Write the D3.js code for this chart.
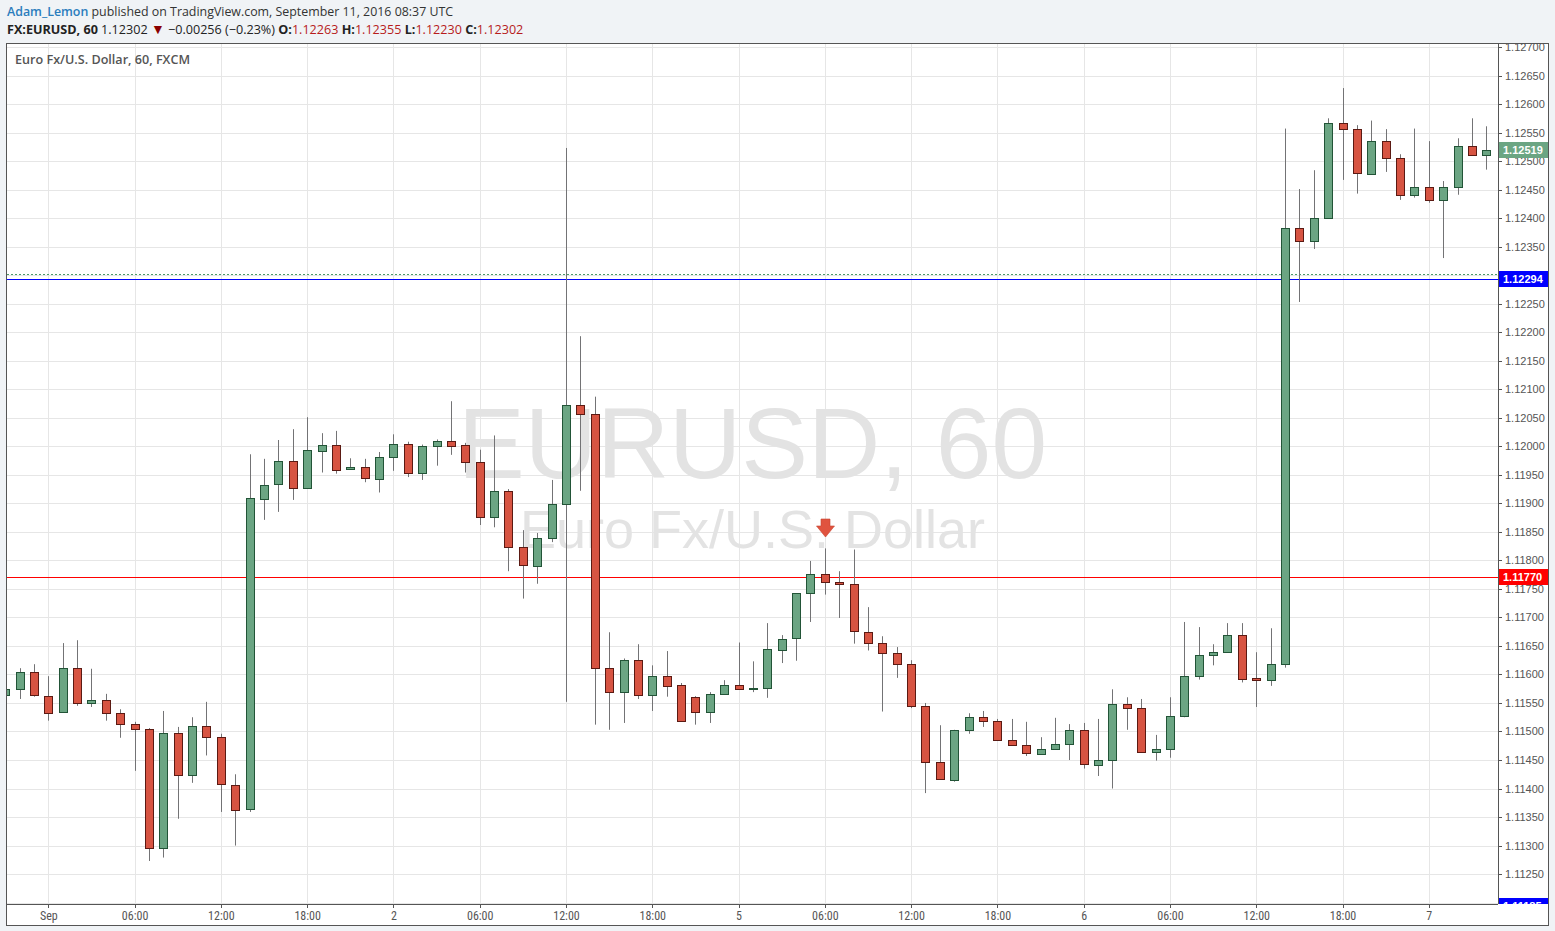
<!DOCTYPE html>
<html><head><meta charset="utf-8">
<script src="https://cdn.jsdelivr.net/npm/d3@7"></script>
<style>html,body{margin:0;padding:0;background:#f0f3f6;}svg{display:block;}</style>
</head><body>
<svg id="c" width="1555" height="931"></svg>
<script>
// ---- DATA (hourly candles, index 0 = Sep 1 00:00; first candle index = -3) ----
const startIndex = -3;
const opens = [1.11563,1.11574,1.11604,1.11563,1.11534,1.11611,1.11549,1.11555,1.11532,1.11513,1.11504,1.11295,1.11497,1.11423,1.11509,1.11490,1.11407,1.11364,1.11909,1.11933,1.11974,1.11926,1.11993,1.12003,1.11960,1.11963,1.11944,
1.11981,1.12004,1.11953,1.12001,1.12010,1.12002,1.11972,1.11875,1.11921,1.11823,1.11791,1.11840,1.11899,1.12073,1.12057,1.11612,1.11570,1.11626,1.11565,1.11598,1.11581,1.11560,1.11534,1.11565,1.11581,1.11574,1.11576,1.11644,1.11663,1.11742,1.11776,1.11762,1.11758,1.11675,1.11655,1.11637,1.11618,1.11544,1.11446,1.11416,1.11502,1.11525,1.11518,1.11485,1.11476,1.11462,1.11470,1.11478,1.11502,1.11442,1.11450,1.11549,1.11542,1.11464,1.11469,1.11527,1.11598,1.11634,1.11640,1.11670,1.11593,1.11590,1.11618,1.12382,1.12359,1.12400,1.12566,1.12556,1.12478,1.12535,1.12505,1.12440,1.12454,1.12431,1.12454,1.12526,1.12510];
const highs = [1.11576,1.11611,1.11618,1.11597,1.11655,1.11660,1.11610,1.11566,1.11539,1.11517,1.11506,1.11536,1.11508,1.11525,1.11552,1.11496,1.11425,1.11986,1.11978,1.12011,1.12030,1.12051,1.12023,1.12027,1.11979,1.11978,1.11990,
1.12021,1.12008,1.12003,1.12012,1.12079,1.12006,1.11994,1.12019,1.11925,1.11853,1.11848,1.11941,1.12523,1.12193,1.12087,1.11674,1.11628,1.11653,1.11616,1.11641,1.11585,1.11562,1.11569,1.11590,1.11656,1.11623,1.11690,1.11669,1.11742,1.11799,1.11821,1.11781,1.11819,1.11718,1.11667,1.11648,1.11625,1.11550,1.11511,1.11503,1.11532,1.11536,1.11522,1.11522,1.11517,1.11490,1.11524,1.11513,1.11515,1.11522,1.11574,1.11560,1.11557,1.11494,1.11560,1.11692,1.11683,1.11653,1.11690,1.11690,1.11639,1.11681,1.12557,1.12451,1.12484,1.12575,1.12628,1.12563,1.12571,1.12556,1.12512,1.12557,1.12535,1.12465,1.12540,1.12575,1.12561];
const lows = [1.11560,1.11557,1.11561,1.11519,1.11534,1.11545,1.11543,1.11519,1.11489,1.11431,1.11273,1.11279,1.11347,1.11410,1.11458,1.11359,1.11300,1.11359,1.11871,1.11885,1.11906,1.11926,1.11954,1.11952,1.11960,1.11937,1.11919,
1.11957,1.11946,1.11941,1.11966,1.11985,1.11954,1.11862,1.11858,1.11781,1.11733,1.11759,1.11832,1.11552,1.11922,1.11512,1.11503,1.11515,1.11557,1.11536,1.11561,1.11518,1.11512,1.11515,1.11565,1.11574,1.11569,1.11559,1.11620,1.11624,1.11692,1.11740,1.11699,1.11654,1.11642,1.11535,1.11594,1.11541,1.11392,1.11416,1.11412,1.11496,1.11508,1.11485,1.11476,1.11457,1.11459,1.11468,1.11450,1.11435,1.11422,1.11400,1.11503,1.11464,1.11449,1.11454,1.11525,1.11591,1.11616,1.11639,1.11586,1.11543,1.11580,1.11612,1.12253,1.12346,1.12400,1.12467,1.12443,1.12476,1.12481,1.12432,1.12436,1.12427,1.12330,1.12441,1.12510,1.12485];
const closes = [1.11574,1.11604,1.11563,1.11534,1.11611,1.11549,1.11555,1.11532,1.11513,1.11504,1.11295,1.11497,1.11423,1.11509,1.11490,1.11407,1.11364,1.11909,1.11933,1.11974,1.11926,1.11993,1.12003,1.11960,1.11963,1.11944,1.11982,
1.12004,1.11953,1.12001,1.12010,1.12002,1.11972,1.11875,1.11921,1.11823,1.11791,1.11840,1.11899,1.12073,1.12057,1.11612,1.11570,1.11626,1.11565,1.11598,1.11581,1.11518,1.11534,1.11565,1.11581,1.11574,1.11576,1.11644,1.11663,1.11742,1.11776,1.11762,1.11758,1.11675,1.11655,1.11637,1.11618,1.11544,1.11446,1.11416,1.11503,1.11525,1.11518,1.11485,1.11476,1.11462,1.11470,1.11478,1.11502,1.11442,1.11450,1.11549,1.11542,1.11464,1.11469,1.11527,1.11598,1.11634,1.11640,1.11670,1.11593,1.11590,1.11618,1.12382,1.12359,1.12400,1.12566,1.12556,1.12478,1.12535,1.12505,1.12440,1.12454,1.12431,1.12454,1.12526,1.12510,1.12519];

const timeTickIndex = [0,6,12,18,24,30,36,42,48,54,60,66,72,78,84,90,96];
const timeTickLabels = ["Sep","06:00","12:00","18:00","2","06:00","12:00","18:00","5","06:00","12:00","18:00","6","06:00","12:00","18:00","7"];
const priceTicks = [1.1125,1.113,1.1135,1.114,1.1145,1.115,1.1155,1.116,1.1165,1.117,1.1175,1.118,1.1185,1.119,1.1195,1.12,1.1205,1.121,1.1215,1.122,1.1225,1.123,1.1235,1.124,1.1245,1.125,1.1255,1.126,1.1265,1.127];
const levelLines = [{v:1.12294,color:"#0000ff",label:"1.12294"},{v:1.1177,color:"#ff0000",label:"1.11770"}];
const lastPrice = 1.12519;
const closeLine = 1.12302;
const signalIndex = 54;

// ---- LAYOUT ----
const L = 7, R = 1498, T = 43, B = 904, OR = 1548, OB = 925;
const svg = d3.select("#c");
const x = d3.scaleLinear().domain([0, 96]).range([48.3, 1428.8]);
const y = d3.scaleLinear().domain([1.1125, 1.127]).range([874.1, 47]);
const UP = "#6ba583", UPB = "#225437", DN = "#d75442", DNB = "#5b1a13", WICK = "#737375";
const hp = v => Math.round(v) + 0.5;

svg.append("rect").attr("width",1555).attr("height",931).attr("fill","#f0f3f6");
svg.append("rect").attr("x",6).attr("y",T).attr("width",OR-6).attr("height",OB-T).attr("fill","#ffffff");

// header
const hf = "'Open Sans', 'Noto Sans', sans-serif";
const h1 = svg.append("text").attr("x",7).attr("y",16).attr("font-family",hf).attr("font-size",12.4).attr("fill","#333");
h1.append("tspan").attr("fill","#2a7dbd").attr("font-weight",600).text("Adam_Lemon");
h1.append("tspan").text(" published on TradingView.com, September 11, 2016 08:37 UTC");
const h2 = svg.append("text").attr("x",7).attr("y",34).attr("font-family",hf).attr("font-size",12.6).attr("fill","#222");
h2.append("tspan").attr("font-weight",700).text("FX:EURUSD, 60");
h2.append("tspan").text("  1.12302 ");
h2.append("tspan").attr("fill","#8b0000").attr("font-size",14).text("\u25BC");
h2.append("tspan").text(" \u22120.00256 (\u22120.23%)  ");
[["O:","1.12263"],["H:","1.12355"],["L:","1.12230"],["C:","1.12302"]].forEach((p,k)=>{
  h2.append("tspan").attr("font-weight",700).text((k? "  ":"")+p[0]);
  h2.append("tspan").attr("fill","#b71c1c").text(p[1]);
});

// clip for plot
svg.append("clipPath").attr("id","plot").append("rect").attr("x",L).attr("y",T).attr("width",R-L).attr("height",B-T);
const g = svg.append("g").attr("clip-path","url(#plot)");

// grid
g.selectAll("line.hg").data(priceTicks).join("line").attr("x1",L).attr("x2",R)
  .attr("y1",d=>hp(y(d))).attr("y2",d=>hp(y(d))).attr("stroke","#e6e6e6");
g.append("line").attr("x1",L).attr("x2",R).attr("y1",hp(y(1.112))).attr("y2",hp(y(1.112))).attr("stroke","#e6e6e6");
g.selectAll("line.vg").data(timeTickIndex).join("line").attr("y1",T).attr("y2",B)
  .attr("x1",d=>hp(x(d))).attr("x2",d=>hp(x(d))).attr("stroke","#e6e6e6");

// watermark
const cx0 = (L+R)/2;
g.append("text").attr("x",cx0).attr("y",478).attr("text-anchor","middle")
  .attr("font-family","'Liberation Sans', Arial, sans-serif").attr("font-size",100).attr("fill","#e3e3e3").text("EURUSD, 60");
g.append("text").attr("x",cx0).attr("y",548).attr("text-anchor","middle")
  .attr("font-family","'Liberation Sans', Arial, sans-serif").attr("font-size",54).attr("fill","#e3e3e3").text("Euro Fx/U.S. Dollar");

// level lines
g.append("line").attr("x1",L).attr("x2",R).attr("y1",hp(y(closeLine))).attr("y2",hp(y(closeLine)))
  .attr("stroke","#4c9a6a").attr("stroke-dasharray","2,2");
levelLines.forEach(l=>{
  g.append("line").attr("x1",L).attr("x2",R).attr("y1",hp(y(l.v))).attr("y2",hp(y(l.v))).attr("stroke",l.color);
});

// candles
const candles = opens.map((o,k)=>({i:startIndex+k,o,h:highs[k],l:lows[k],c:closes[k]}));
const cg = g.selectAll("g.cd").data(candles).join("g");
cg.append("line").attr("x1",d=>hp(x(d.i))).attr("x2",d=>hp(x(d.i)))
  .attr("y1",d=>y(d.h)).attr("y2",d=>y(d.l)).attr("stroke",WICK);
cg.append("rect")
  .attr("x",d=>Math.round(x(d.i))-3.5)
  .attr("y",d=>Math.round(y(Math.max(d.o,d.c)))+0.5)
  .attr("width",8)
  .attr("height",d=>Math.max(1,Math.round(Math.abs(y(d.o)-y(d.c)))))
  .attr("fill",d=>d.c>=d.o?UP:DN).attr("stroke",d=>d.c>=d.o?UPB:DNB).attr("stroke-width",1);

// signal arrow
const sx = Math.round(x(signalIndex))+0.5, sy = 519;
g.append("path").attr("d",`M${sx-4.5},${sy} L${sx+4.5},${sy} L${sx+4.5},${sy+7} L${sx+9},${sy+7} L${sx},${sy+18} L${sx-9},${sy+7} L${sx-4.5},${sy+7} Z`)
  .attr("fill","#e0533f").attr("stroke","#c8432f").attr("stroke-width",0.6);

// title
svg.append("text").attr("x",15).attr("y",64).attr("font-family",hf).attr("font-size",12.6).attr("font-weight",600)
  .attr("fill","#555").text("Euro Fx/U.S. Dollar, 60, FXCM");

// price axis (labels hidden where a price label box covers them)
const pf = "'Liberation Sans', Arial, sans-serif";
const boxes = [lastPrice].concat(levelLines.map(l=>l.v));
const visibleTicks = priceTicks.filter(t=>!boxes.some(b=>Math.abs(y(b)-y(t))<6));
const pa = svg.append("g");
pa.selectAll("line").data(priceTicks).join("line").attr("x1",R).attr("x2",R+4)
  .attr("y1",d=>hp(y(d))).attr("y2",d=>hp(y(d))).attr("stroke","#555");
pa.selectAll("text").data(visibleTicks).join("text").attr("x",R+7).attr("y",d=>y(d)+4)
  .attr("font-family",pf).attr("font-size",11).attr("fill","#555").text(d=>d.toFixed(5));

// price labels
function priceLabel(v, fill, txt){
  const yy = Math.round(y(v));
  svg.append("rect").attr("x",R+1).attr("y",yy-8).attr("width",OR-R-1).attr("height",16).attr("fill",fill);
  svg.append("text").attr("x",R+5).attr("y",yy+4).attr("font-family",pf).attr("font-size",11).attr("font-weight",700)
    .attr("fill","#fff").text(txt);
}
priceLabel(lastPrice, UP, lastPrice.toFixed(5));
levelLines.forEach(l=>priceLabel(l.v, l.color, l.label));
// bottom partially visible label
svg.append("clipPath").attr("id","pclip").append("rect").attr("x",R).attr("y",T).attr("width",OR-R).attr("height",B-T);
const bl = svg.append("g").attr("clip-path","url(#pclip)");
bl.append("rect").attr("x",R+1).attr("y",898).attr("width",OR-R-1).attr("height",16).attr("fill","#0000ff");
bl.append("text").attr("x",R+5).attr("y",910).attr("font-family",pf).attr("font-size",11).attr("font-weight",700).attr("fill","#fff").text("1.11185");

// time axis
const tf = "'Liberation Sans Narrow', 'Arial Narrow', 'Roboto Condensed', sans-serif";
svg.selectAll("line.tt").data(timeTickIndex).join("line").attr("x1",d=>hp(x(d))).attr("x2",d=>hp(x(d)))
  .attr("y1",B).attr("y2",B+4).attr("stroke","#555");
svg.selectAll("text.tl").data(timeTickIndex).join("text").attr("x",d=>x(d)+0.5).attr("y",B+16)
  .attr("text-anchor","middle").attr("font-family",tf).attr("font-stretch","condensed").attr("font-size",12).attr("fill","#555")
  .text((d,k)=>timeTickLabels[k]);

// borders
svg.append("rect").attr("x",6.5).attr("y",T+0.5).attr("width",OR-6).attr("height",OB-T).attr("fill","none").attr("stroke","#555");
svg.append("line").attr("x1",R+0.5).attr("x2",R+0.5).attr("y1",T).attr("y2",B).attr("stroke","#555");
svg.append("line").attr("x1",6).attr("x2",R).attr("y1",B+0.5).attr("y2",B+0.5).attr("stroke","#555");
</script>
</body></html>
